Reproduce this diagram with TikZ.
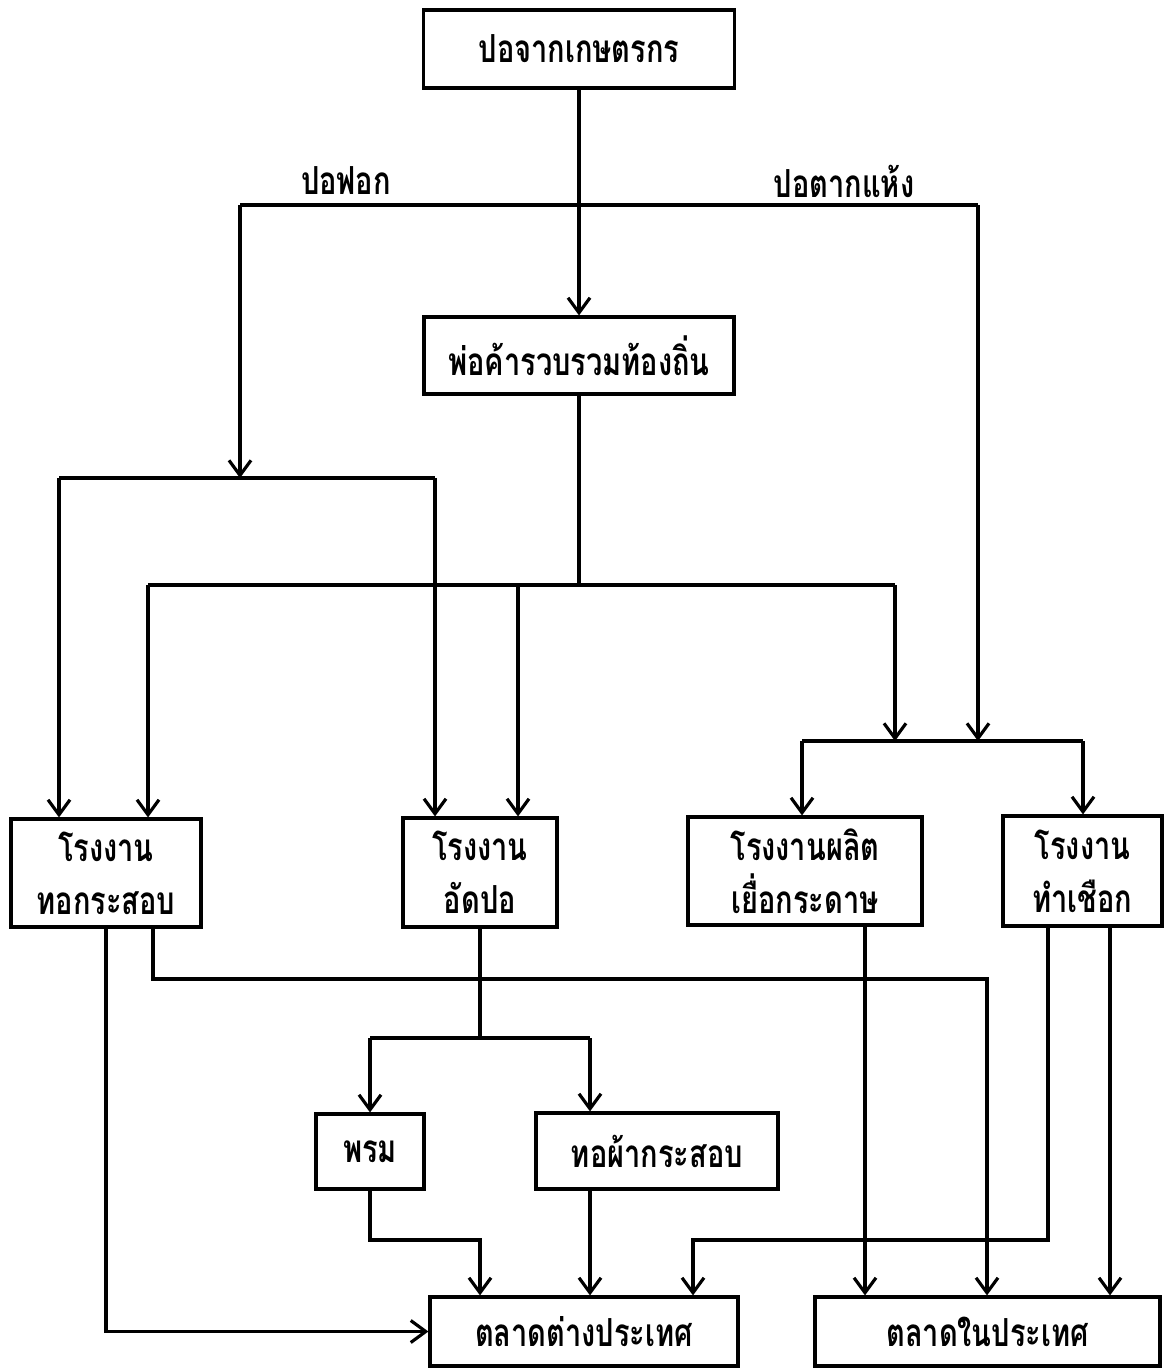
\documentclass[tikz,border=0pt]{standalone}
\usepackage{fontspec}
\newfontfamily\thaifont[Script=Thai,FakeStretch=0.75]{Loma}
\usetikzlibrary{arrows.meta}
\tikzset{
  box/.style={draw, line width=1.8pt, align=center, inner sep=0pt,
    font=\thaifont\bfseries\fontsize{22}{30}\selectfont},
  wh/.style 2 args={minimum width=#1*0.2mm, minimum height=#2*0.2mm},
  tag/.style={font=\thaifont\bfseries\fontsize{22}{30}\selectfont},
  link/.style={line width=1.8pt},
  flow/.style={line width=1.8pt, -{Straight Barb[length=3mm,width=4.4mm]}}
}

\begin{document}
\begin{tikzpicture}[x=0.2mm, y=-0.2mm]
\useasboundingbox (0,0) rectangle (1166,1368);
\node[box, wh={311}{78}] (farmer) at (579,49) {ปอจากเกษตรกร};
\node[box, wh={310}{77}] (middleman) at (579,355.5) {พ่อค้ารวบรวมท้องถิ่น};
\node[box, wh={190}{108}] (sack) at (106,873) {โรงงาน\\ทอกระสอบ};
\node[box, wh={154}{109}] (press) at (480,872.5) {โรงงาน\\อัดปอ};
\node[box, wh={234}{108}] (pulp) at (805,871) {โรงงานผลิต\\เยื่อกระดาษ};
\node[box, wh={159}{110}] (rope) at (1082.5,871) {โรงงาน\\ทำเชือก};
\node[box, wh={108}{75}] (carpet) at (370,1151.5) {พรม};
\node[box, wh={242}{76}] (cloth) at (657,1151) {ทอผ้ากระสอบ};
\node[box, wh={308}{69}] (export) at (584,1331.5) {ตลาดต่างประเทศ};
\node[box, wh={345}{69}] (domestic) at (987.5,1331.5) {ตลาดในประเทศ};
\node[tag] (bleachlbl) at (346,181) {ปอฟอก};
\node[tag] (drylbl) at (844,181) {ปอตากแห้ง};

\coordinate (bleach) at (240,205);
\coordinate (dry) at (978,205);
\coordinate (l1) at (59,478);
\coordinate (l2) at (435,478);
\coordinate (m1) at (148,585);
\coordinate (m2) at (518,585);
\coordinate (m3) at (895,585);
\coordinate (r1) at (802,741);
\coordinate (r2) at (1083,741);
\coordinate (d1) at (153,979);
\coordinate (d2) at (987,979);
\coordinate (p1) at (370,1038);
\coordinate (p2) at (590,1038);
\coordinate (e1) at (480,1240);
\coordinate (e2) at (693,1240);
\coordinate (f1) at (1048,1240);
\coordinate (g1) at (865,1240);
\coordinate (g2) at (1110,1240);

\draw[flow] (farmer) -- (middleman);
\draw[link] (bleach) -- (dry);
\draw[flow] (bleach) -- (bleach |- l1);
\draw[flow] (dry) -- (dry |- r1);
\draw[link] (l1) -- (l2);
\draw[flow] (l1) -- (l1 |- sack.north);
\draw[flow] (l2) -- (l2 |- press.north);
\draw[link] (middleman) -- (middleman |- m1);
\draw[link] (m1) -- (m3);
\draw[flow] (m1) -- (m1 |- sack.north);
\draw[flow] (m2) -- (m2 |- press.north);
\draw[flow] (m3) -- (m3 |- r1);
\draw[link] (r1) -- (r2);
\draw[flow] (r1) -- (r1 |- pulp.north);
\draw[flow] (r2) -- (r2 |- rope.north);
\draw[flow] (sack) |- (export);
\draw[flow] (d1 |- sack.south) -- (d1) -- (d2) -- (d2 |- domestic.north);
\draw[link] (press) -- (press |- p1);
\draw[link] (p1) -- (p2);
\draw[flow] (p1) -- (carpet);
\draw[flow] (p2) -- (p2 |- cloth.north);
\draw[flow] (carpet) |- (e1) -- (e1 |- export.north);
\draw[flow] (p2 |- cloth.south) -- (p2 |- export.north);
\draw[flow] (g1 |- pulp.south) -- (g1 |- domestic.north);
\draw[flow] (f1 |- rope.south) -- (f1) -- (e2) -- (e2 |- export.north);
\draw[flow] (g2 |- rope.south) -- (g2 |- domestic.north);
\end{tikzpicture}
\end{document}
